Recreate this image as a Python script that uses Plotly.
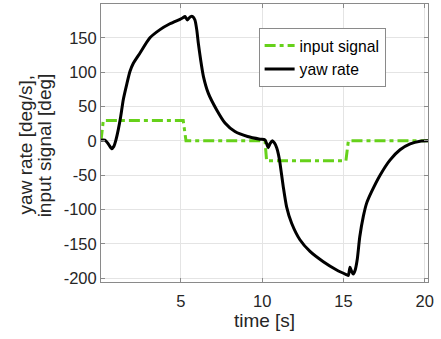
import plotly.graph_objects as go

# input signal (step steer)
sig_t = [0.08, 0.22, 5.14, 5.31, 10.17, 10.27, 15.15, 15.3, 20.2]
sig_v = [0, 29.5, 29.5, 0, 0, -28.8, -28.8, 0, 0]

# yaw rate
yaw_t = [0.08, 0.32, 0.47, 0.6, 0.73, 0.87, 1.0, 1.14, 1.29, 1.45, 1.66, 1.86,
         2.07, 2.48, 3.09, 3.71, 4.32, 4.94, 5.1, 5.25, 5.39, 5.5, 5.6, 5.72,
         5.86, 5.97, 6.07, 6.21, 6.38, 6.68, 7.2, 7.71, 8.32, 9.1, 9.86, 10.17,
         10.3, 10.37, 10.48, 10.62, 10.75, 10.89, 11.0, 11.09, 11.29, 11.5,
         11.81, 12.32, 12.94, 13.76, 14.58, 15.2, 15.3, 15.4, 15.5, 15.6,
         15.72, 15.85, 16.0, 16.22, 16.42, 16.73, 17.25, 17.86, 18.48, 19.1,
         19.71, 20.2]
yaw_v = [1, 1, -2.5, -7, -11.5, -8, 1.5, 16, 35, 60, 82, 101,
         113, 128, 150, 162, 170.5, 177, 179, 181, 176, 179, 181, 181,
         176, 162, 142, 118, 94, 69.5, 45, 26, 13.6, 6.3, 2.5, 1.5,
         -6, -10, -4, 0, -3, -10, -20, -32, -66, -96,
         -120, -144, -161, -176, -188, -195, -196, -184, -190, -194,
         -188, -172, -140, -110, -91, -74, -50, -28, -13, -4.5,
         -0.5, 0]

xticks = [5, 10, 15, 20]
yticks = [-200, -150, -100, -50, 0, 50, 100, 150]
ytitle_lines = ["yaw rate [deg/s],", "input signal [deg]"]

FONT = "Liberation Sans, Arial, sans-serif"
TXT = "#262626"

fig = go.Figure()
fig.add_trace(go.Scatter(x=sig_t, y=sig_v, mode="lines", name="input signal",
                         line=dict(color="#66d11a", width=3, dash="11px,4px,4px,4px")))
fig.add_trace(go.Scatter(x=yaw_t, y=yaw_v, mode="lines", name="yaw rate",
                         line=dict(color="black", width=3, shape="spline", smoothing=0.6)))

axcommon = dict(showline=True, linecolor="#8a8a8a", linewidth=1, mirror="allticks",
                ticks="inside", ticklen=4, tickcolor="#8a8a8a",
                showgrid=True, gridcolor="#e4e4e4", gridwidth=1, zeroline=False,
                tickfont=dict(family=FONT, size=16.5, color=TXT))

fig.update_xaxes(range=[0.08, 20.2], tickvals=xticks, ticktext=[str(v) for v in xticks],
                 ticklabelstandoff=4,
                 title=dict(text="time [s]", font=dict(family=FONT, size=19, color=TXT), standoff=3),
                 **axcommon)
fig.update_yaxes(range=[-205.5, 199.3], tickvals=yticks, ticktext=[str(v) for v in yticks],
                 **axcommon)

for txt, xp in zip(ytitle_lines, [-0.231, -0.170]):
    fig.add_annotation(text=txt, textangle=-90,
                       xref="paper", yref="paper", x=xp, y=0.493, xanchor="center", yanchor="middle",
                       showarrow=False, font=dict(family=FONT, size=19, color=TXT))

fig.update_layout(
    width=441, height=339,
    margin=dict(l=101, r=13, t=4, b=57),
    plot_bgcolor="white", paper_bgcolor="white",
    font=dict(family=FONT, size=16, color=TXT),
    legend=dict(x=0.482, y=0.914, xanchor="left", yanchor="top",
                bgcolor="white", bordercolor="#8a8a8a", borderwidth=1,
                font=dict(family=FONT, size=15.7, color="black"),
                tracegroupgap=0, itemwidth=30),
    showlegend=True,
)

fig.write_html("out.html")
